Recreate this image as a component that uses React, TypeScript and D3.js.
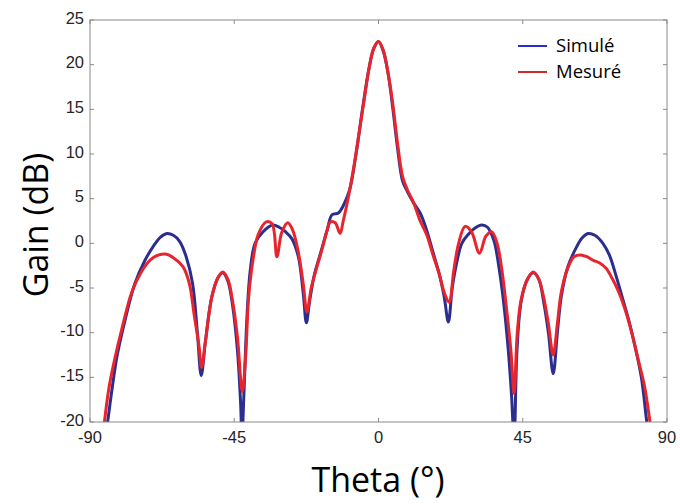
import React from "react";
import * as d3 from "d3";

const xTicks = [-90, -45, 0, 45, 90];
const yTicks = [-20, -15, -10, -5, 0, 5, 10, 15, 20, 25];

const simTheta = [-84.5, -83, -81.5, -79, -76, -73, -70, -68, -66, -64, -62, -60, -58, -56.5, -55.3, -54, -52, -50, -48.6, -47, -45.5, -44, -43, -42.6, -42, -41, -40, -38.5, -36, -33, -31, -29, -27, -25, -23.5, -22.5, -21.5, -20, -18, -16, -14.5, -12.5, -11, -9, -7, -5, -3, -1.5, 0, 1.5, 3, 4.5, 6, 7.5, 9, 11, 13, 15, 17, 19, 20.5, 21.8, 23, 24.5, 26, 28, 30, 32.2, 34, 36, 37.5, 39, 40.5, 41.5, 42.3, 43.2, 44.5, 46.5, 48.3, 50, 51.5, 53, 54.5, 55.8, 57, 59, 61.8, 63.5, 65.4, 67.5, 70, 72, 74, 76, 78, 80, 82, 83.7, 84.5];
const simGain = [-20, -16, -12.5, -8.5, -4.5, -2, -0.2, 0.7, 1.1, 0.9, 0.2, -1.5, -4.5, -10, -14.8, -11, -6, -3.8, -3.3, -4.2, -7, -12, -18, -22, -17, -8, -3, 0, 1.3, 2.05, 1.8, 1.3, 0.5, -1.5, -5.5, -8.9, -6.5, -3.5, -1, 1.5, 3.2, 3.4, 4.2, 6, 10, 15, 19.5, 21.8, 22.6, 21.5, 19, 15, 10.5, 7, 5.8, 4.5, 3.4, 1.5, -1, -3.5, -6, -8.8, -5, -2, 0, 1, 1.7, 2.05, 1.8, 0.3, -2.5, -6.5, -12, -17, -22, -12, -6.5, -4, -3.3, -4, -6.5, -10, -14.6, -10, -6, -2.7, -0.4, 0.6, 1.1, 0.9, 0, -1.3, -3.5, -6, -8.5, -11.5, -15, -20, -22];

const mesTheta = [-85.5, -84, -82, -80, -77, -74, -71, -68.5, -66.5, -64, -61, -59, -57.5, -56, -55.2, -54, -52, -50, -48.6, -47, -45.5, -44, -42.5, -41.5, -40.5, -39, -37.5, -35, -33.2, -31.7, -30.2, -28.3, -26.8, -25, -23.5, -22.3, -21, -19.5, -17.5, -16, -15, -13.5, -12, -11, -9.5, -7.5, -6, -4.5, -3, -1.5, 0, 1.5, 3, 4.5, 6, 7.5, 9, 11, 13, 15, 17, 19, 20.5, 22, 23.5, 25, 27, 29, 31.5, 33.5, 35.3, 37, 38.5, 40, 41.3, 42.3, 43.3, 44.5, 46.5, 48.3, 50, 51.5, 53, 54.5, 55.8, 57, 59, 61, 63, 65, 67, 69, 71, 73, 75, 77, 79, 81, 83, 84.7, 85.5];
const mesGain = [-20, -16, -12.5, -9.5, -5.5, -3.2, -1.8, -1.3, -1.2, -1.6, -2.6, -4.5, -8, -11.5, -13.9, -11, -6, -3.8, -3.2, -4, -6.5, -10.5, -16.6, -13, -6, -1.5, 1, 2.4, 2.2, -1.5, 1.2, 2.3, 1.5, -1, -4.5, -7.7, -5, -3, -0.5, 1.5, 2.4, 2.3, 1.1, 2.5, 5, 9, 12.5, 16, 19.5, 21.8, 22.6, 21.6, 19, 15.5, 11, 7.5, 6, 4.5, 2.5, 1, -1.3, -3.5, -5.5, -6.6, -3, 0, 1.9, 1.3, -1.1, 0.8, 1.3, 0, -3, -7.5, -12, -16.8, -10, -6.3, -4, -3.2, -4, -6, -9, -12.5, -9, -5.5, -2.8, -1.5, -1.3, -1.5, -1.9, -2.2, -2.8, -4, -5.5, -7.5, -10, -13, -16, -20, -22];

const seriesNames = ["Simulé", "Mesuré"];
const seriesColors = ["#2b2e8e", "#e8242c"];
const legendColors = ["#2a2ad0", "#d02a2a"];

export default function App() {
  const W = 680, H = 504;
  const L = 90, R = 667, T = 20, B = 422;
  const x = d3.scaleLinear().domain([-90, 90]).range([L, R]);
  const y = d3.scaleLinear().domain([-20, 25]).range([B, T]);
  const line = d3.line<[number, number]>()
    .x(d => x(d[0])).y(d => y(d[1]))
    .curve(d3.curveCatmullRom.alpha(0.5));
  const sim = simTheta.map((t, i) => [t, simGain[i]] as [number, number]);
  const mes = mesTheta.map((t, i) => [t, mesGain[i]] as [number, number]);
  const axisColor = "#8a8a8a";
  const labelColor = "#262626";
  const tl = 4;
  return (
    <svg width={W} height={H} style={{ position: "absolute", left: 0, top: 0, background: "#fff" }}>
      <defs>
        <clipPath id="plotclip">
          <rect x={L} y={T} width={R - L} height={B - T} />
        </clipPath>
      </defs>
      <rect x={0} y={0} width={W} height={H} fill="#fff" />
      <g clipPath="url(#plotclip)" fill="none" strokeWidth={3} strokeLinejoin="round" strokeLinecap="round">
        <path d={line(sim) || ""} stroke={seriesColors[0]} />
        <path d={line(mes) || ""} stroke={seriesColors[1]} />
      </g>
      <rect x={L} y={T} width={R - L} height={B - T} fill="none" stroke={axisColor} strokeWidth={1} />
      {xTicks.map(t => (
        <g key={"x" + t}>
          <line x1={x(t)} x2={x(t)} y1={B} y2={B - tl} stroke={axisColor} />
          <line x1={x(t)} x2={x(t)} y1={T} y2={T + tl} stroke={axisColor} />
          <text x={x(t)} y={443} textAnchor="middle" fontFamily="Liberation Sans, Arial, sans-serif" fontSize={16.5} fill={labelColor}>{t}</text>
        </g>
      ))}
      {yTicks.map(t => (
        <g key={"y" + t}>
          <line x1={L} x2={L + tl} y1={y(t)} y2={y(t)} stroke={axisColor} />
          <line x1={R} x2={R - tl} y1={y(t)} y2={y(t)} stroke={axisColor} />
          <text x={84} y={y(t) - 2} dy="0.35em" textAnchor="end" fontFamily="Liberation Sans, Arial, sans-serif" fontSize={16.5} fill={labelColor}>{t}</text>
        </g>
      ))}
      <text x={378} y={492} textAnchor="middle" fontFamily="Open Sans, Noto Sans, sans-serif" fontSize={34} fill="#000">Theta (°)</text>
      <text transform={`translate(48,225) rotate(-90)`} textAnchor="middle" fontFamily="Open Sans, Noto Sans, sans-serif" fontSize={34} fill="#000">Gain (dB)</text>
      {seriesNames.map((n, i) => (
        <g key={n}>
          <line x1={518} x2={547} y1={46 + i * 26} y2={46 + i * 26} stroke={legendColors[i]} strokeWidth={2} />
          <text x={556} y={46 + i * 26} dy="0.35em" fontFamily="Open Sans, Noto Sans, sans-serif" fontSize={18.5} fill="#000">{n}</text>
        </g>
      ))}
    </svg>
  );
}
